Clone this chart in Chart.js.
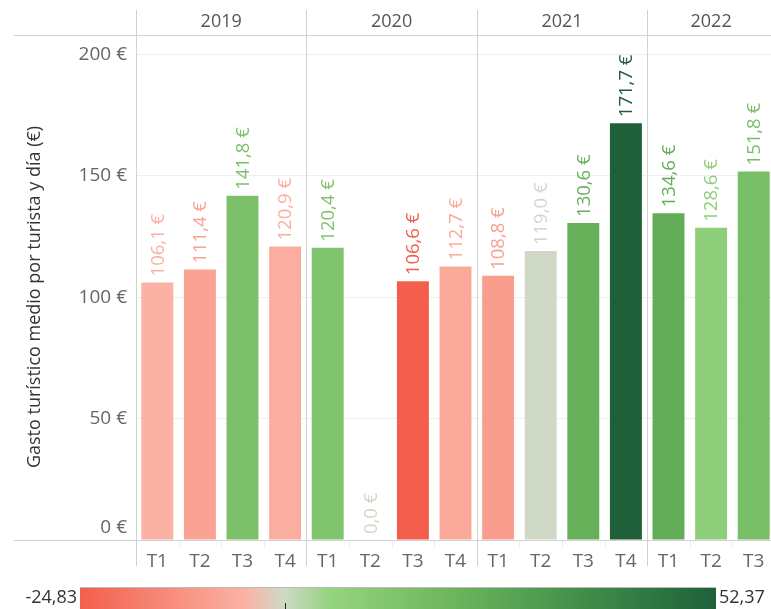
<!DOCTYPE html>
<html>
<head>
<meta charset="utf-8">
<script src="https://cdn.jsdelivr.net/npm/chart.js@4.4.1/dist/chart.umd.min.js"></script>
<style>
  html, body { margin: 0; padding: 0; background: #fff; overflow: hidden; }
  #wrap { width: 780px; height: 609px; }
</style>
</head>
<body>
<div id="wrap"><canvas id="c" width="780" height="609"></canvas></div>
<script>
// ---- Data ----
const anios = ['2019', '2020', '2021', '2022'];
const trimestresPorAnio = [4, 4, 4, 3];
const trimestres = ['T1','T2','T3','T4', 'T1','T2','T3','T4', 'T1','T2','T3','T4', 'T1','T2','T3'];
const gasto = [106.1, 111.4, 141.8, 120.9, 120.4, 0.0, 106.6, 112.7, 108.8, 119.0, 130.6, 171.7, 134.6, 128.6, 151.8];
// colour metric (variación interanual, %), null = sin dato
const variacion = [-5.0, -8.5, 15.0, -6.0, 13.5, null, -24.83, -6.8, -9.6, null, 22.5, 52.37, 23.7, 8.1, 16.2];
const rangoColor = [-24.83, 52.37];
const rangoColorTexto = ['-24,83', '52,37'];
const yTicks = [0, 50, 100, 150, 200];
const yTitulo = 'Gasto turístico medio por turista y día (€)';

// ---- Colour scale ----
const stops = [[0, '#f35f4c'], [0.26, '#fbb2a4'], [0.32, '#cfd9c6'], [0.39, '#96d480'], [0.6, '#6ab35b'], [0.8, '#3f8c49'], [1, '#1f603a']];
const nullColor = '#d0d8c8';
function hex(h) { return [parseInt(h.slice(1,3),16), parseInt(h.slice(3,5),16), parseInt(h.slice(5,7),16)]; }
function colorFor(v) {
  if (v === null) return nullColor;
  let t = (v - rangoColor[0]) / (rangoColor[1] - rangoColor[0]);
  t = Math.max(0, Math.min(1, t));
  for (let i = 1; i < stops.length; i++) {
    if (t <= stops[i][0]) {
      const a = stops[i-1], b = stops[i];
      const f = (t - a[0]) / (b[0] - a[0]);
      const ca = hex(a[1]), cb = hex(b[1]);
      const c = ca.map((x, k) => Math.round(x + (cb[k] - x) * f));
      return 'rgb(' + c.join(',') + ')';
    }
  }
  return stops[stops.length-1][1];
}
const barColors = variacion.map(colorFor);
const FONT = '"Open Sans", "DejaVu Sans", sans-serif';
const fmt = v => v.toFixed(1).replace('.', ',') + ' €';

const overlay = {
  id: 'overlay',
  afterDraw(chart) {
    const ctx = chart.ctx;
    const ca = chart.chartArea;
    const xs = chart.scales.x;
    const ys = chart.scales.y;
    const W = chart.width;
    ctx.save();
    // lines
    ctx.strokeStyle = '#d2d2d2';
    ctx.lineWidth = 1;
    ctx.beginPath();
    ctx.moveTo(14, ca.top + 0.5); ctx.lineTo(W, ca.top + 0.5);
    ctx.moveTo(14, ca.bottom + 0.5); ctx.lineTo(W, ca.bottom + 0.5);
    ctx.stroke();
    // faint tick separators between quarters
    ctx.strokeStyle = '#f0f0f0';
    ctx.beginPath();
    for (let i = 1; i < trimestres.length; i++) {
      const x = Math.round((xs.getPixelForValue(i - 1) + xs.getPixelForValue(i)) / 2) + 0.5;
      ctx.moveTo(x, ca.bottom + 1); ctx.lineTo(x, ca.bottom + 8);
    }
    ctx.stroke();
    // y title
    ctx.save();
    ctx.translate(35, 297);
    ctx.rotate(-Math.PI / 2);
    ctx.fillStyle = '#333';
    ctx.font = '18px ' + FONT;
    ctx.textAlign = 'center'; ctx.textBaseline = 'middle';
    ctx.fillText(yTitulo, 0, 0);
    ctx.restore();
    // y tick labels (bottom one kept inside the pane)
    ctx.fillStyle = '#666';
    ctx.font = '19px ' + FONT;
    ctx.textAlign = 'right'; ctx.textBaseline = 'middle';
    yTicks.forEach(v => {
      let y = ys.getPixelForValue(v);
      if (y > ca.bottom - 12) y = ca.bottom - 12;
      ctx.fillText(v + ' €', ca.left - 9, y);
    });
    // panels
    let idx = 0;
    anios.forEach((yr, k) => {
      const n = trimestresPorAnio[k];
      const start = idx === 0 ? ca.left : (xs.getPixelForValue(idx - 1) + xs.getPixelForValue(idx)) / 2;
      const endIdx = idx + n;
      const end = endIdx >= trimestres.length ? ca.right : (xs.getPixelForValue(endIdx - 1) + xs.getPixelForValue(endIdx)) / 2;
      const xl = Math.round(start) + 0.5;
      ctx.strokeStyle = '#d2d2d2';
      ctx.beginPath(); ctx.moveTo(xl, 10); ctx.lineTo(xl, ca.bottom + 26); ctx.stroke();
      ctx.fillStyle = '#555';
      ctx.font = '18px ' + FONT;
      ctx.textAlign = 'center'; ctx.textBaseline = 'middle';
      ctx.fillText(yr, (start + end) / 2, 22);
      idx += n;
    });
    // value labels
    const meta = chart.getDatasetMeta(0);
    ctx.font = '18.5px ' + FONT;
    meta.data.forEach((bar, i) => {
      ctx.save();
      ctx.translate(bar.x, bar.y - 6);
      ctx.rotate(-Math.PI / 2);
      ctx.fillStyle = barColors[i];
      ctx.textAlign = 'left'; ctx.textBaseline = 'middle';
      ctx.fillText(fmt(gasto[i]), 0, 1);
      ctx.restore();
    });
    // colour legend
    const lx0 = 80, lx1 = 716, ly0 = 587, ly1 = 612;
    const g = ctx.createLinearGradient(lx0, 0, lx1, 0);
    stops.forEach(s => g.addColorStop(s[0], s[1]));
    ctx.fillStyle = g;
    ctx.fillRect(lx0, ly0, lx1 - lx0, ly1 - ly0);
    ctx.strokeStyle = '#bdbdbd';
    ctx.beginPath(); ctx.moveTo(lx0, ly0 + 0.5); ctx.lineTo(lx1, ly0 + 0.5); ctx.stroke();
    const zx = lx0 + (0 - rangoColor[0]) / (rangoColor[1] - rangoColor[0]) * (lx1 - lx0);
    ctx.strokeStyle = '#222';
    ctx.beginPath(); ctx.moveTo(Math.round(zx) + 0.5, 603); ctx.lineTo(Math.round(zx) + 0.5, 609); ctx.stroke();
    ctx.fillStyle = '#333';
    ctx.font = '18px ' + FONT;
    ctx.textBaseline = 'middle';
    ctx.textAlign = 'right'; ctx.fillText(rangoColorTexto[0], lx0 - 3, 598);
    ctx.textAlign = 'left'; ctx.fillText(rangoColorTexto[1], lx1 + 3, 598);
    ctx.restore();
  }
};

new Chart(document.getElementById('c'), {
  type: 'bar',
  data: {
    labels: trimestres,
    datasets: [{
      data: gasto,
      backgroundColor: barColors,
      borderWidth: 0,
      barPercentage: 0.75,
      categoryPercentage: 1.0
    }]
  },
  options: {
    responsive: false,
    animation: false,
    layout: { padding: { top: 35, right: 5, left: 0, bottom: 0 } },
    plugins: { legend: { display: false }, tooltip: { enabled: false } },
    scales: {
      x: {
        grid: { display: false },
        border: { display: false },
        ticks: { color: '#666', font: { size: 19, family: FONT }, padding: 2, maxRotation: 0, autoSkip: false },
        afterFit(s) { s.height = 69; }
      },
      y: {
        min: 0, max: 208,
        afterBuildTicks(s) { s.ticks = yTicks.map(v => ({ value: v })); },
        grid: { color: '#efefef', drawTicks: false },
        border: { display: false },
        ticks: { display: false },
        title: { display: false },
        afterFit(s) { s.width = 136; }
      }
    }
  },
  plugins: [overlay]
});
</script>
</body>
</html>
